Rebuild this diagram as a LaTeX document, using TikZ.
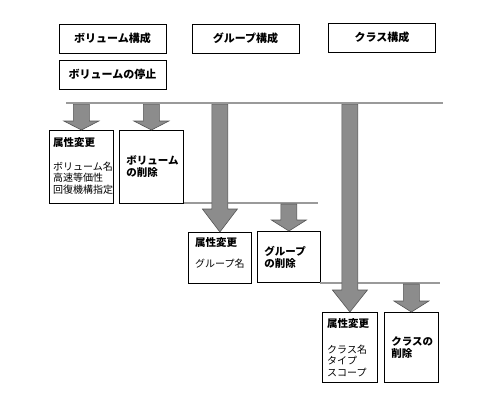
\documentclass[tikz,border=0pt]{standalone}
\usepackage{fontspec}
\setmainfont{Noto Sans CJK JP}
\usetikzlibrary{calc}
\definecolor{flowGray}{HTML}{8C8C8C}
\definecolor{flowEdge}{HTML}{555555}
\definecolor{barGray}{HTML}{9A9A9A}

\begin{document}
\begin{tikzpicture}[x=1pt, y=-1pt,
  opbox/.style={draw, line width=0.8pt, minimum width=107pt, minimum height=29pt, inner sep=0pt,
    font=\bfseries\fontsize{11}{12}\selectfont},
  attrbox/.style={draw, line width=0.8pt, inner sep=0pt, anchor=north west},
  attrtext/.style={inner sep=0pt, anchor=north west, align=left, font=\fontsize{10}{11.5}\selectfont},
  delbox/.style={draw, line width=0.8pt, anchor=north west, inner xsep=7pt, inner ysep=0pt, align=left,
    font=\bfseries\fontsize{10.5}{12}\selectfont},
  flowshape/.style={draw=flowEdge, fill=flowGray, line width=0.6pt},
  barline/.style={draw=flowEdge, line width=0.5pt, double=barGray, double distance=1.1pt}]
  \useasboundingbox (0,0) rectangle (500,400);
  % block arrow from a bar down to the top of a box: bar, box, head length
  \newcommand{\flowarrow}[3]{\draw[flowshape] let \p1=(#2.north), \p2=(#1) in
    (\x1-8pt,\y2-1pt) -- (\x1+8pt,\y2-1pt) -- (\x1+8pt,\y1+#3pt) -- (\x1+17.5pt,\y1+#3pt)
    -- (\x1,\y1) -- (\x1-17.5pt,\y1+#3pt) -- (\x1-8pt,\y1+#3pt) -- cycle;}
  % Operations
  \node[opbox] (volcfg) at (112.5,38.5) {ボリューム構成};
  \node[opbox] (grpcfg) at (245.5,38.5) {グループ構成};
  \node[opbox] (clscfg) at (382,37.5) {クラス構成};
  \node[opbox] (volstop) at (112.5,74.5) {ボリュームの停止};
  % Volume level
  \node[attrbox, minimum width=64pt, minimum height=73pt] (attr1) at (49,130) {};
  \node[attrtext] (attr1text) at ([shift={(4,7)}]attr1.north west)
    {\textbf{\fontsize{10.5}{11.5}\selectfont 属性変更}\\[12.5pt]ボリューム名\\高速等価性\\回復機構指定};
  \node[delbox, text width=50pt, minimum height=73pt] (del1) at (119,130) {ボリューム\\の削除};
  % Group level
  \node[attrbox, minimum width=63pt, minimum height=51pt] (attr2) at (188,232) {};
  \node[attrtext] (attr2text) at ([shift={(7,5)}]attr2.north west)
    {\textbf{\fontsize{10.5}{11.5}\selectfont 属性変更}\\[9.5pt]グループ名};
  \node[delbox, text width=49pt, minimum height=51pt] (del2) at (257,231) {グループ\\の削除};
  % Class level
  \node[attrbox, minimum width=55pt, minimum height=70pt] (attr3) at (322,312) {};
  \node[attrtext] (attr3text) at ([shift={(5,6)}]attr3.north west)
    {\textbf{\fontsize{10.5}{11.5}\selectfont 属性変更}\\[14.5pt]クラス名\\タイプ\\スコープ};
  \node[delbox, text width=40pt, minimum height=70pt] (del3) at (384,312) {クラスの\\削除};
  % Bars
  \coordinate (bar1) at (66,103);
  \coordinate (bar2) at (184,203);
  \coordinate (bar3) at (320,283);
  \draw[barline] (bar2) -- (318,203);
  \draw[barline] (bar3) -- (440,283);
  % Arrows
  \flowarrow{bar1}{attr1}{9}
  \flowarrow{bar1}{del1}{9}
  \flowarrow{bar1}{attr2}{23}
  \flowarrow{bar2}{del2}{11}
  \flowarrow{bar1}{attr3}{22}
  \flowarrow{bar3}{del3}{11}
  \draw[barline] (bar1) -- (443,103);
\end{tikzpicture}
\end{document}
